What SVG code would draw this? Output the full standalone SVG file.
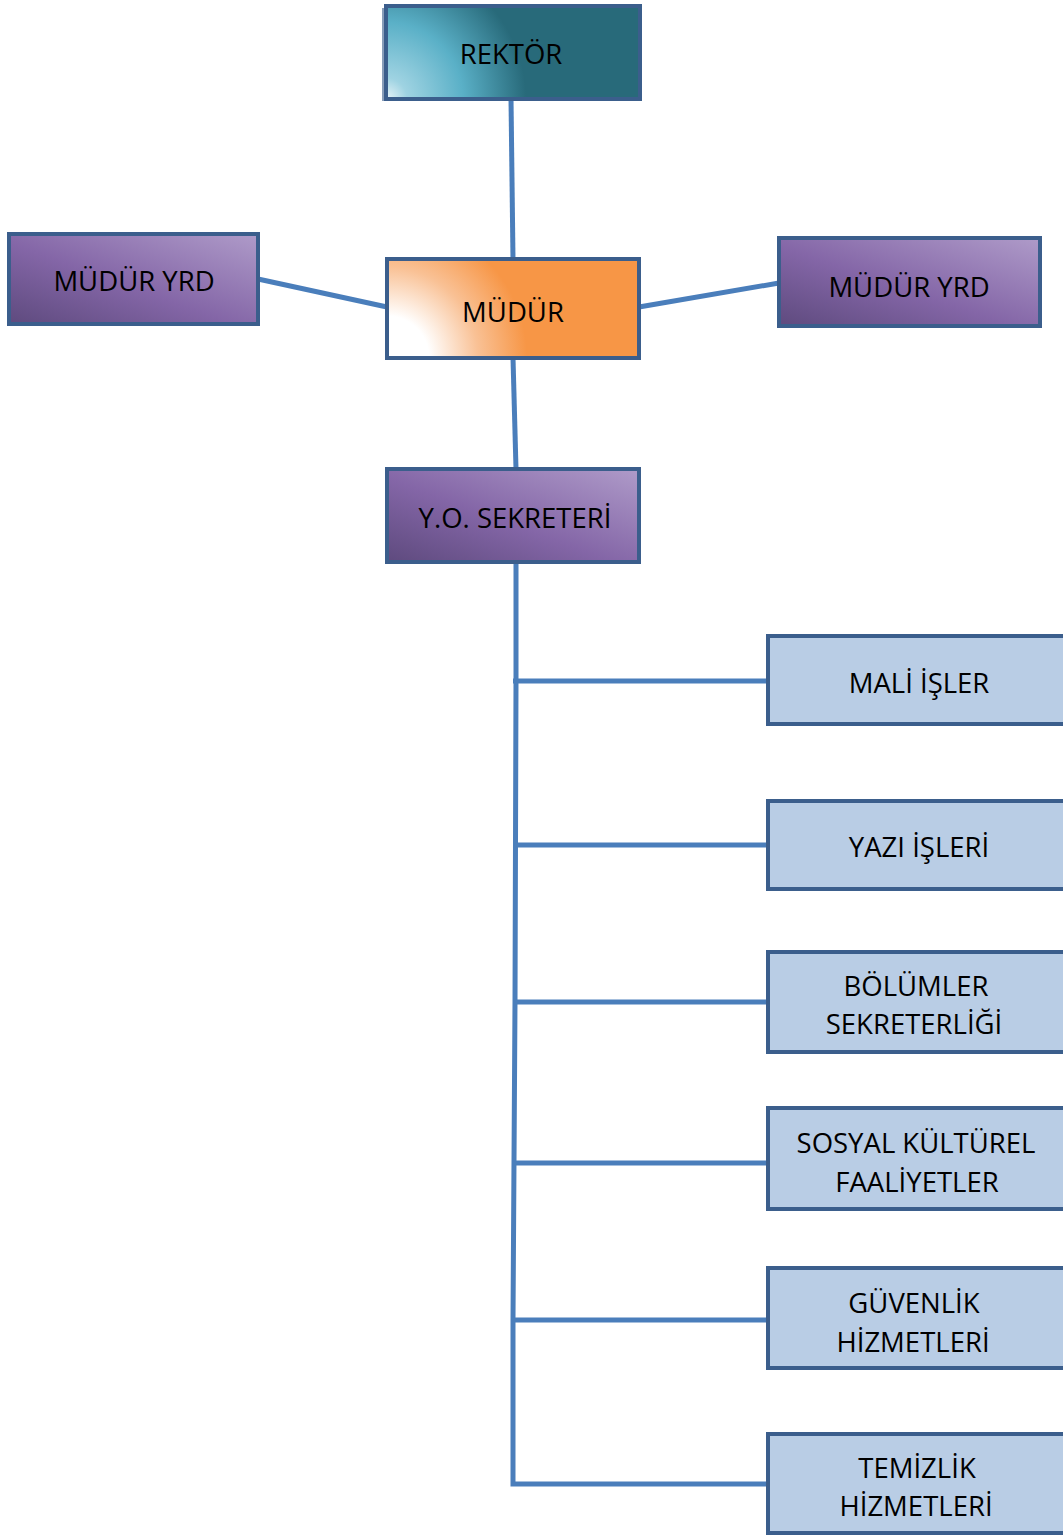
<svg xmlns="http://www.w3.org/2000/svg" width="1063" height="1535" viewBox="0 0 1063 1535">
<style>
.box{stroke:#3B5E8C;stroke-width:4}
.blue{fill:#B9CDE5}
.t{font-family:"Open Sans","Liberation Sans",sans-serif;font-size:27.5px;fill:#000;text-anchor:middle;dominant-baseline:central}
.c{stroke:#4A7EBB;stroke-width:5;fill:none}
</style>
<defs>
<linearGradient id="purp" x1="0" y1="1" x2="1" y2="0">
<stop offset="0" stop-color="#5E4A7E"/>
<stop offset="0.45" stop-color="#8466A7"/>
<stop offset="1" stop-color="#AF9BC9"/>
</linearGradient>
<radialGradient id="teal" gradientUnits="userSpaceOnUse" cx="386" cy="99" r="140">
<stop offset="0" stop-color="#E8F4F8"/>
<stop offset="0.15" stop-color="#9FD3E2"/>
<stop offset="0.55" stop-color="#5AB0C7"/>
<stop offset="1" stop-color="#286A7A"/>
</radialGradient>
<radialGradient id="orng" gradientUnits="userSpaceOnUse" cx="387" cy="358" r="140">
<stop offset="0" stop-color="#FFFFFF"/>
<stop offset="0.3" stop-color="#FFFFFF"/>
<stop offset="0.65" stop-color="#F9C195"/>
<stop offset="1" stop-color="#F79646"/>
</radialGradient>
</defs>
<g id="connectors">
<line class="c" x1="511" y1="99" x2="513" y2="259"/>
<line class="c" x1="258" y1="279" x2="387" y2="307"/>
<line class="c" x1="639" y1="307" x2="779" y2="283"/>
<line class="c" x1="513" y1="358" x2="516" y2="469"/>
<polyline class="c" points="516,562 516,681 515,1002 513,1320 513,1484 768,1484"/>
<line class="c" x1="513" y1="681" x2="768" y2="681"/>
<line class="c" x1="513" y1="845" x2="768" y2="845"/>
<line class="c" x1="513" y1="1002" x2="768" y2="1002"/>
<line class="c" x1="513" y1="1163" x2="768" y2="1163"/>
<line class="c" x1="511" y1="1320" x2="768" y2="1320"/>
</g>
<g id="rektor">
<rect x="383" y="9" width="254" height="91" fill="#6FB8CE" stroke="#3B5E8C" stroke-width="2" opacity="0.6"/>
<rect class="box" x="386" y="6" width="254" height="93" fill="url(#teal)"/>
<text class="t" x="511" y="53">REKTÖR</text>
</g>
<g id="mudur">
<rect class="box" x="387" y="259" width="252" height="99" fill="url(#orng)"/>
<text class="t" x="513" y="311">MÜDÜR</text>
</g>
<g id="mudur-yrd-left">
<rect class="box" x="9" y="234" width="249" height="90" fill="url(#purp)"/>
<text class="t" x="134" y="280">MÜDÜR YRD</text>
</g>
<g id="mudur-yrd-right">
<rect class="box" x="779" y="238" width="261" height="88" fill="url(#purp)"/>
<text class="t" x="909" y="286">MÜDÜR YRD</text>
</g>
<g id="yo-sekreteri">
<rect class="box" x="387" y="469" width="252" height="93" fill="url(#purp)"/>
<text class="t" x="515" y="517">Y.O. SEKRETERİ</text>
</g>
<g id="mali-isler">
<rect class="box blue" x="768" y="636" width="300" height="88"/>
<text class="t" x="919" y="682">MALİ İŞLER</text>
</g>
<g id="yazi-isleri">
<rect class="box blue" x="768" y="801" width="300" height="88"/>
<text class="t" x="919" y="846">YAZI İŞLERİ</text>
</g>
<g id="bolumler">
<rect class="box blue" x="768" y="952" width="300" height="100"/>
<text class="t" x="916" y="985">BÖLÜMLER</text>
<text class="t" x="914" y="1023">SEKRETERLİĞİ</text>
</g>
<g id="sosyal">
<rect class="box blue" x="768" y="1108" width="300" height="101"/>
<text class="t" x="916" y="1142">SOSYAL KÜLTÜREL</text>
<text class="t" x="917" y="1181">FAALİYETLER</text>
</g>
<g id="guvenlik">
<rect class="box blue" x="768" y="1268" width="300" height="100"/>
<text class="t" x="914" y="1302">GÜVENLİK</text>
<text class="t" x="913" y="1341">HİZMETLERİ</text>
</g>
<g id="temizlik">
<rect class="box blue" x="768" y="1434" width="300" height="99"/>
<text class="t" x="917" y="1467">TEMİZLİK</text>
<text class="t" x="916" y="1505">HİZMETLERİ</text>
</g>
</svg>
